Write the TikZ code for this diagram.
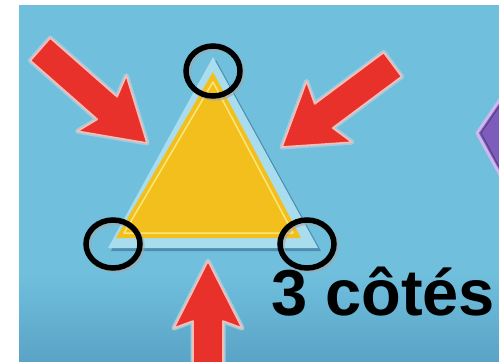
\documentclass[tikz,border=0pt]{standalone}
\usepackage{fontspec}
\setmainfont{Liberation Sans}
\definecolor{Sky}{HTML}{70BFDD}
\definecolor{SkyDeep}{HTML}{5AA3C6}
\definecolor{Rim}{HTML}{A9DDEE}
\definecolor{RimShade}{HTML}{4C8DB0}
\definecolor{Gold}{HTML}{F2BF1C}
\definecolor{GoldLine}{HTML}{F9E77C}
\definecolor{Alert}{HTML}{E8312B}
\definecolor{AlertEdge}{HTML}{F8BDB5}
\definecolor{Halo}{HTML}{A3CBDD}
\definecolor{Violet}{HTML}{7D5CBB}
\definecolor{Lilac}{HTML}{CDB8EE}

% arrow pointing along +x, tip at the origin
% #1 total length, #2 head length, #3 head half width, #4 shaft half width
\newcommand{\arrowshape}[4]{(0,0) -- (-#2,#3) -- (-#2+7,#4) -- (-#1,#4)
  -- (-#1,-#4) -- (-#2+7,-#4) -- (-#2,-#3) -- cycle}

\begin{document}
\begin{tikzpicture}[
    x=1pt, y=-1pt,
    halo/.style={draw=Halo, line width=5pt, line join=round},
    pointer/.style={fill=Alert, draw=AlertEdge, line width=1.6pt, line join=round},
    ring/.style={draw=black, line width=5.5pt},
    ringshade/.style={draw=black!35, line width=5.5pt, opacity=0.6},
    label/.style={font=\bfseries\fontsize{65}{65}\selectfont, inner sep=0pt, anchor=base west}
  ]
  \useasboundingbox (0,0) rectangle (499,362);
  \fill[white] (0,0) rectangle (499,362);
  \fill[Sky] (19,5) rectangle (499,275);
  \shade[top color=Sky, bottom color=SkyDeep] (19,274) rectangle (499,362);

  \begin{scope}
    \clip (19,5) rectangle (499,362);

    % purple shape at the right edge
    \draw[fill=Violet, draw=Lilac, line width=3pt, line join=round]
      (477,133) -- (505,92) -- (540,133) -- (505,184) -- cycle;
    \draw[draw=Violet!70!black, line width=1pt]
      (481,133) -- (505,98) -- (540,133) -- (505,178) -- cycle;

    % triangle
    \fill[RimShade] (216,60) -- (321,251) -- (111,251) -- cycle;
    \fill[Rim] (213,57) -- (318,248) -- (108,248) -- cycle;
    \fill[Gold] (213,72) -- (301,238) -- (116,238) -- cycle;
    \draw[GoldLine, line width=1.5pt, line join=round] (213,82) -- (293,233) -- (124,233) -- cycle;

    % arrows
    \begin{scope}[shift={(147,143)}, rotate=-41.3]
      \draw[halo] \arrowshape{142}{60}{37}{15};
      \draw[pointer] \arrowshape{142}{60}{37}{15};
    \end{scope}
    \begin{scope}[shift={(282,147)}, rotate=-143.3]
      \draw[halo] \arrowshape{138}{59}{38}{15};
      \draw[pointer] \arrowshape{138}{59}{38}{15};
    \end{scope}
    \begin{scope}[shift={(208,261)}, rotate=90]
      \draw[halo] \arrowshape{120}{67}{34}{15};
      \draw[pointer] \arrowshape{120}{67}{34}{15};
    \end{scope}

    % vertex rings
    \draw[ringshade] (215,73) ellipse [x radius=27, y radius=25];
    \draw[ringshade] (115,246) ellipse [x radius=27, y radius=24];
    \draw[ringshade] (309,246) ellipse [x radius=27, y radius=24];
    \draw[ring] (213,71) ellipse [x radius=27, y radius=25];
    \draw[ring] (113,244) ellipse [x radius=27, y radius=24];
    \draw[ring] (307,244) ellipse [x radius=27, y radius=24];

    \node[label] (sides) at (271,315) {3 côtés};
  \end{scope}
\end{tikzpicture}
\end{document}
